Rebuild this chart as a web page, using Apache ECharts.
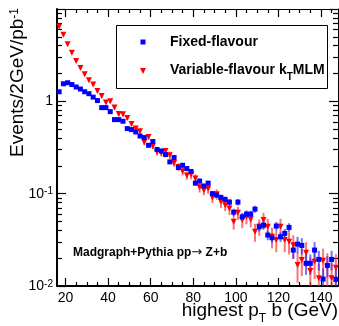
<!DOCTYPE html>
<html><head><meta charset="utf-8">
<script src="https://cdn.jsdelivr.net/npm/echarts@6/dist/echarts.min.js"></script>
<style>html,body{margin:0;padding:0;background:#fff}#c{width:339px;height:326px}</style>
</head><body><div id="c"></div>
<script>
// ---- data ----
const binCenters = [17,19,21,23,25,27,29,31,33,35,37,39,41,43,45,47,49,51,53,55,
  57,59,61,63,65,67,69,71,73,75,77,79,81,83,85,87,89,91,93,95,
  97,99,101,103,105,107,109,111,113,115,117,119,121,123,125,127,129,131,133,135,
  137,139,141,143,145,147];
const fixedFlavour = [1.27,1.55,1.59,1.52,1.43,1.36,1.27,1.21,1.11,1.02,
  0.855,0.855,0.774,0.634,0.634,0.608,0.507,0.494,0.466,0.421,
  0.405,0.334,0.367,0.301,0.290,0.265,0.221,0.246,0.192,0.203,
  0.187,0.174,0.130,0.137,0.121,0.130,0.100,0.0964,0.091,0.0866,
  0.081,0.063,0.081,0.0561,0.060,0.060,0.068,0.0438,0.0456,0.0356,
  0.0333,0.0446,0.0341,0.0371,0.0431,0.0245,0.0284,0.0275,0.0176,0.0176,
  0.0245,0.0194,0.0119,0.0167,0.0194,0.0118];
const fixedRelErr = [0.015,0.015,0.015,0.015,0.015,0.018,0.018,0.018,0.02,0.02,
  0.022,0.022,0.024,0.026,0.026,0.027,0.03,0.03,0.031,0.033,
  0.035,0.038,0.036,0.04,0.04,0.043,0.047,0.045,0.05,0.05,
  0.05,0.052,0.06,0.06,0.062,0.06,0.07,0.07,0.072,0.074,
  0.08,0.09,0.08,0.095,0.09,0.09,0.085,0.11,0.11,0.12,
  0.12,0.11,0.12,0.12,0.11,0.2,0.2,0.2,0.25,0.25,
  0.22,0.24,0.3,0.26,0.24,0.3];
const variableFlavour = [6.47,5.26,4.16,3.36,2.73,2.29,1.96,1.69,1.52,1.29,
  1.14,0.97,1.0,0.855,0.73,0.723,0.66,0.568,0.507,0.474,
  0.360,0.411,0.326,0.283,0.275,0.290,0.261,0.215,0.195,0.175,
  0.157,0.161,0.146,0.117,0.109,0.113,0.091,0.0988,0.0815,0.0751,
  0.0692,0.0496,0.062,0.0517,0.0561,0.0526,0.0386,0.0438,0.0517,0.0438,
  0.0341,0.0314,0.0438,0.0314,0.0301,0.0277,0.0169,0.0191,0.0229,0.0145,
  0.0183,0.0121,0.0188,0.0162,0.0121,0.0158];
const variableRelErr = [0.02,0.02,0.02,0.025,0.025,0.03,0.03,0.03,0.035,0.035,
  0.04,0.04,0.045,0.045,0.05,0.05,0.05,0.055,0.06,0.06,
  0.07,0.07,0.07,0.08,0.08,0.08,0.09,0.09,0.1,0.1,
  0.1,0.11,0.11,0.12,0.12,0.12,0.13,0.13,0.14,0.14,
  0.15,0.18,0.16,0.18,0.17,0.18,0.22,0.2,0.2,0.22,
  0.25,0.26,0.22,0.26,0.27,0.28,0.36,0.33,0.3,0.4,
  0.35,0.45,0.35,0.4,0.45,0.4];
const xMajorTicks = [20,40,60,80,100,120,140];
const xMinorTicks = [25,30,35,45,50,55,65,70,75,85,90,95,105,110,115,125,130,135,145];
const yMajorTicks = [0.01,0.1,1,10];
const yLabelTicks = [0.01,0.1,1];
const yMinorTicks = [0.02,0.03,0.04,0.05,0.06,0.07,0.08,0.09,0.2,0.3,0.4,0.5,0.6,0.7,0.8,0.9,2,3,4,5,6,7,8,9];
const legendNames = ['Fixed-flavour', 'Variable-flavour k{t|T}MLM'];
const annotation = 'Madgraph+Pythia pp{a|\u2192} Z+b';
const xTitle = 'highest p{t|T} b (GeV)';
const yTitle = 'Events/2GeV/pb{s|-1}';

// ---- build ----
const F = '"Liberation Sans", Arial, Helvetica, sans-serif';
const X_MIN = 16, X_MAX = 148, Y_MIN = 0.01, Y_MAX = 10;
const pts = (vals) => binCenters.map((x, i) => [x, vals[i]]);
const errs = (vals, rel) => binCenters.map((x, i) => [x, vals[i], vals[i] * rel[i]]);

function xAxisDef(pos, ticks, len, showLine, lineW, labels) {
  return {
    type: 'value', min: X_MIN, max: X_MAX, position: pos,
    axisLine: { show: showLine, onZero: false, lineStyle: { color: '#000', width: lineW } },
    axisTick: { show: true, inside: true, length: len, customValues: ticks, lineStyle: { color: '#000', width: 1.2 } },
    axisLabel: labels ? { show: true, customValues: xMajorTicks, color: '#000', fontSize: 14, fontFamily: F, margin: 5 } : { show: false },
    splitLine: { show: false }, minorTick: { show: false }
  };
}
function yAxisDef(pos, ticks, len, showLine, lineW, labels) {
  return {
    type: 'log', logBase: 10, min: Y_MIN, max: Y_MAX, position: pos,
    axisLine: { show: showLine, onZero: false, lineStyle: { color: '#000', width: lineW } },
    axisTick: { show: true, inside: true, length: len, customValues: ticks, lineStyle: { color: '#000', width: 1.2 } },
    axisLabel: labels ? {
      show: true, customValues: yLabelTicks, color: '#000', fontSize: 14, fontFamily: F, margin: 4,
      formatter: (v) => {
        const e = Math.round(Math.log10(v));
        return e === 0 ? '1' : '10{s|' + e + '}';
      },
      rich: { s: { fontSize: 10, fontFamily: F, color: '#000', verticalAlign: 'top', lineHeight: 10 } }
    } : { show: false },
    splitLine: { show: false }, minorTick: { show: false }
  };
}

function errRender(color) {
  return function (params, api) {
    const x = api.value(0), y = api.value(1), e = api.value(2);
    const lo = Math.max(y - e, 1e-5);
    const p1 = api.coord([x, y + e]);
    const p2 = api.coord([x, lo]);
    return { type: 'line', shape: { x1: p1[0], y1: p1[1], x2: p2[0], y2: p2[1] },
      style: { stroke: color, lineWidth: 2 } };
  };
}

const chart = echarts.init(document.getElementById('c'), null, { renderer: 'canvas' });
chart.setOption({
  animation: false,
  backgroundColor: '#fff',
  grid: { left: 57, right: 1, top: 9, bottom: 40, containLabel: false },
  xAxis: [
    xAxisDef('bottom', xMajorTicks, 8, true, 2, true),
    xAxisDef('bottom', xMinorTicks, 4, false, 1, false),
    xAxisDef('top', xMajorTicks, 8, true, 1, false),
    xAxisDef('top', xMinorTicks, 4, false, 1, false)
  ],
  yAxis: [
    yAxisDef('left', yMajorTicks, 9, true, 2, true),
    yAxisDef('left', yMinorTicks, 5, false, 1, false),
    yAxisDef('right', yMajorTicks, 9, true, 1, false),
    yAxisDef('right', yMinorTicks, 5, false, 1, false)
  ],
  series: [
    { type: 'custom', name: 'varErr', data: errs(variableFlavour, variableRelErr), encode: { x: 0, y: 1 },
      renderItem: errRender('rgba(255,40,40,0.65)'), clip: true, z: 1, silent: true },
    { type: 'custom', name: 'fixErr', data: errs(fixedFlavour, fixedRelErr), encode: { x: 0, y: 1 },
      renderItem: errRender('rgba(40,40,255,0.65)'), clip: true, z: 2, silent: true },
    { type: 'scatter', name: 'Variable', data: pts(variableFlavour), symbol: 'triangle', symbolRotate: 180,
      symbolSize: [6, 6], itemStyle: { color: '#ff0000', opacity: 1 }, clip: true, z: 3, silent: true },
    { type: 'scatter', name: 'Fixed', data: pts(fixedFlavour), symbol: 'rect',
      symbolSize: [5, 5], itemStyle: { color: '#0000ff', opacity: 1 }, clip: true, z: 4, silent: true }
  ],
  graphic: [
    { type: 'rect', shape: { x: 116.5, y: 25.5, width: 211, height: 63 },
      style: { fill: '#fff', stroke: '#000', lineWidth: 1 }, z: 100 },
    { type: 'rect', shape: { x: 140.5, y: 39.5, width: 5, height: 5 }, style: { fill: '#0000ff' }, z: 101 },
    { type: 'polygon', shape: { points: [[140, 68], [146, 68], [143, 74]] }, style: { fill: '#ff0000' }, z: 101 },
    { type: 'text', x: 170, y: 42, z: 101,
      style: { text: legendNames[0], fontFamily: F, fontWeight: 'bold', fontSize: 14, fill: '#000',
        align: 'left', verticalAlign: 'middle' } },
    { type: 'text', x: 170, y: 70, z: 101,
      style: { text: legendNames[1], fontFamily: F, fontWeight: 'bold', fontSize: 14, fill: '#000',
        align: 'left', verticalAlign: 'middle', lineHeight: 24,
        rich: { t: { fontSize: 10, fontFamily: F, fontWeight: 'bold', fill: '#000', verticalAlign: 'bottom', lineHeight: 11 } } } },
    { type: 'text', x: 73, y: 253, z: 101,
      style: { text: annotation, fontFamily: F, fontWeight: 'bold', fontSize: 12, fill: '#000',
        align: 'left', verticalAlign: 'middle',
        rich: { a: { fontFamily: '"DejaVu Sans", sans-serif', fontSize: 13, fill: '#000' } } } },
    { type: 'text', x: 338, y: 311, z: 101,
      style: { text: xTitle, fontFamily: F, fontSize: 19, fill: '#000', align: 'right', verticalAlign: 'middle',
        lineHeight: 28,
        rich: { t: { fontSize: 12, fontFamily: F, fill: '#000', verticalAlign: 'bottom', lineHeight: 12 } } } },
    { type: 'text', x: 18, y: 8, rotation: Math.PI / 2, z: 101,
      style: { text: yTitle, fontFamily: F, fontSize: 19, fill: '#000', align: 'right', verticalAlign: 'middle',
        rich: { s: { fontSize: 12, fontFamily: F, fill: '#000', verticalAlign: 'top', lineHeight: 12 } } } }
  ]
});
</script>
</body></html>
